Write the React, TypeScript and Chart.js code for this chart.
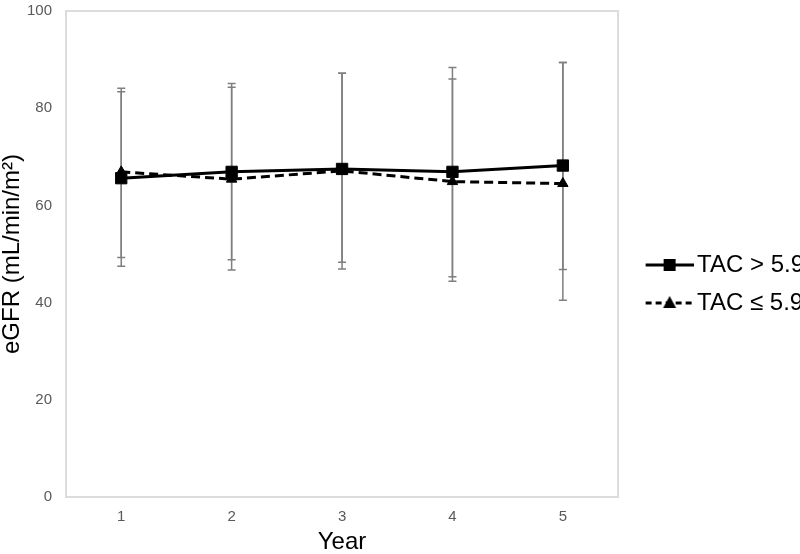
import React, { useEffect, useRef } from 'react';
import { Chart, registerables } from 'chart.js';

Chart.register(...registerables);

// ---- data ----
const years = ['1', '2', '3', '4', '5'];
const seriesNames = ['TAC > 5.9', 'TAC ≤ 5.9'];
const highMean = [65.6, 66.9, 67.5, 66.9, 68.2];
const highUpper = [84.1, 84.3, 87.2, 88.4, 89.4];
const highLower = [47.5, 48.8, 48.3, 45.3, 46.8];
const lowMean = [66.9, 65.4, 67.1, 64.9, 64.5];
const lowUpper = [83.4, 85.1, 87.2, 86.0, 89.4];
const lowLower = [49.3, 46.7, 46.9, 44.4, 40.5];
const yMin = 0;
const yMax = 100;
const yStep = 20;
const xTitle = 'Year';
const yTitle = 'eGFR (mL/min/m²)';

const upperBars = [highUpper, lowUpper];
const lowerBars = [highLower, lowLower];

const FONT = "'Liberation Sans', Arial, Helvetica, sans-serif";

function makeLegendIcon(dashed: boolean, shape: 'square' | 'triangle'): HTMLCanvasElement {
  const c = document.createElement('canvas');
  c.width = 70;
  c.height = 24;
  const ctx = c.getContext('2d')!;
  ctx.strokeStyle = '#000';
  ctx.fillStyle = '#000';
  ctx.lineWidth = 3;
  if (dashed) ctx.setLineDash([6, 4]);
  ctx.beginPath();
  ctx.moveTo(22, 12);
  ctx.lineTo(70, 12);
  ctx.stroke();
  ctx.setLineDash([]);
  const cx = 46;
  if (shape === 'square') {
    ctx.fillRect(cx - 6, 6, 12, 12);
  } else {
    ctx.beginPath();
    ctx.moveTo(cx, 5);
    ctx.lineTo(cx + 6.5, 17);
    ctx.lineTo(cx - 6.5, 17);
    ctx.closePath();
    ctx.fill();
  }
  return c;
}

const frameAndErrorBars = {
  id: 'frameAndErrorBars',
  beforeDatasetsDraw(chart: any) {
    const { ctx, chartArea, scales } = chart;
    ctx.save();
    ctx.strokeStyle = '#dcdcdc';
    ctx.lineWidth = 2;
    ctx.strokeRect(chartArea.left, chartArea.top, chartArea.right - chartArea.left, chartArea.bottom - chartArea.top);
    ctx.strokeStyle = '#7f7f7f';
    ctx.lineWidth = 1.5;
    const cap = 4;
    upperBars.forEach((ups, d) => {
      const lows = lowerBars[d];
      ups.forEach((u, i) => {
        const x = scales.x.getPixelForValue(i);
        const yt = scales.y.getPixelForValue(u);
        const yb = scales.y.getPixelForValue(lows[i]);
        ctx.beginPath();
        ctx.moveTo(x, yt);
        ctx.lineTo(x, yb);
        ctx.moveTo(x - cap, yt);
        ctx.lineTo(x + cap, yt);
        ctx.moveTo(x - cap, yb);
        ctx.lineTo(x + cap, yb);
        ctx.stroke();
      });
    });
    ctx.restore();
  },
};

export default function App() {
  const ref = useRef<HTMLCanvasElement | null>(null);

  useEffect(() => {
    if (!ref.current) return;
    Chart.defaults.font.family = FONT;
    const icons = [makeLegendIcon(false, 'square'), makeLegendIcon(true, 'triangle')];
    const chart = new Chart(ref.current, {
      type: 'line',
      data: {
        labels: years,
        datasets: [
          {
            label: seriesNames[0],
            data: highMean,
            borderColor: '#000',
            backgroundColor: '#000',
            borderWidth: 3,
            pointStyle: 'rect',
            pointRadius: 8,
            pointBackgroundColor: '#000',
            pointBorderColor: '#000',
            pointBorderWidth: 1,
            tension: 0,
          },
          {
            label: seriesNames[1],
            data: lowMean,
            borderColor: '#000',
            backgroundColor: '#000',
            borderWidth: 3,
            borderDash: [9, 5],
            pointStyle: 'triangle',
            pointRadius: 6,
            pointBackgroundColor: '#000',
            pointBorderColor: '#000',
            pointBorderWidth: 1,
            tension: 0,
          },
        ],
      },
      options: {
        animation: false,
        responsive: false,
        maintainAspectRatio: false,
        layout: { padding: 0, autoPadding: false },
        plugins: {
          tooltip: { enabled: false },
          legend: {
            position: 'right',
            align: 'center',
            title: { display: true, text: ' ', font: { size: 10, lineHeight: 1.2 }, padding: 1 },
            labels: {
              usePointStyle: true,
              pointStyleWidth: 53,
              padding: 14,
              color: '#000',
              font: { size: 24, family: FONT },
              generateLabels: (ch: any) =>
                ch.data.datasets.map((ds: any, i: number) => ({
                  text: ds.label,
                  pointStyle: icons[i],
                  fillStyle: 'rgba(0,0,0,0)',
                  strokeStyle: 'rgba(0,0,0,0)',
                  lineWidth: 0,
                  hidden: false,
                  datasetIndex: i,
                  fontColor: '#000',
                })),
            },
          },
        },
        scales: {
          x: {
            type: 'category',
            offset: true,
            grid: { display: false, drawTicks: true, tickLength: 9 },
            border: { display: false },
            ticks: { color: '#595959', font: { size: 15, lineHeight: 1.2 }, padding: 2 },
            title: {
              display: true,
              text: xTitle,
              color: '#000',
              font: { size: 24, lineHeight: 1 },
              padding: { top: 2, bottom: 0 },
            },
          },
          y: {
            min: yMin,
            max: yMax,
            grid: { display: false, drawTicks: true, tickLength: 12 },
            border: { display: false },
            ticks: { stepSize: yStep, color: '#595959', font: { size: 15, lineHeight: 1.2 }, padding: 2 },
            title: {
              display: true,
              text: yTitle,
              color: '#000',
              font: { size: 24, lineHeight: 1 },
              padding: { top: 0, bottom: 1 },
            },
          },
        },
      },
      plugins: [frameAndErrorBars],
    });
    return () => chart.destroy();
  }, []);

  return (
    <div style={{ position: 'absolute', left: 0, top: 0, width: 800, height: 554, overflow: 'hidden', background: '#fff' }}>
      <canvas ref={ref} width={814} height={554} style={{ display: 'block', width: 814, height: 554 }} />
    </div>
  );
}
